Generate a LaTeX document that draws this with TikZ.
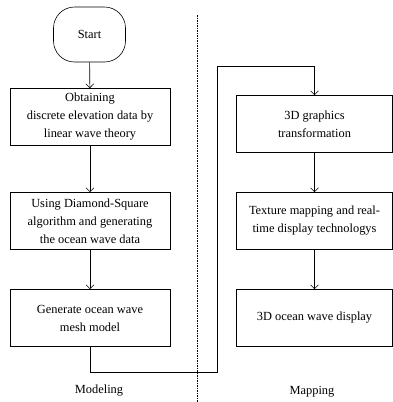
\documentclass[tikz,border=0pt]{standalone}
\usepackage{fontspec}
\setmainfont{Liberation Serif}
\usetikzlibrary{arrows.meta}
\begin{document}
\begin{tikzpicture}[x=1pt,y=-1pt,
  every node/.style={font=\fontsize{12.4}{18}\selectfont},
  stepbox/.style={draw, line width=0.6pt, minimum width=160pt, minimum height=57pt, align=center, inner sep=1pt},
  startbox/.style={draw, line width=0.6pt, rounded corners=21pt, minimum width=72pt, minimum height=55pt},
  flow/.style={line width=0.6pt, -{Straight Barb[length=4pt,width=8pt]}},
  link/.style={line width=0.6pt}]
\useasboundingbox (0,0) rectangle (393,402);
% modeling column
\node[startbox] (start) at (89.5,34.5) {Start};
\node[stepbox] (s1) at (90,117) {Obtaining\\discrete elevation data by\\linear wave theory};
\node[stepbox] (s2) at (90,221) {Using Diamond-Square\\algorithm and generating\\the ocean wave data};
\node[stepbox] (s3) at (90,318) {Generate ocean wave\\mesh model};
% mapping column
\node[stepbox, minimum width=156pt] (m1) at (314.5,124) {3D graphics\\transformation};
\node[stepbox, minimum width=156pt] (m2) at (314.5,221) {Texture mapping and real-\\time display technologys};
\node[stepbox, minimum width=156pt] (m3) at (314.5,318) {3D ocean wave display};
% separator
\draw[line width=0.6pt, dash pattern=on 1.5pt off 1pt] (197,15) -- (197,402);
% connectors
\coordinate (b1) at (90,372);
\coordinate (b2) at (217,372);
\coordinate (b3) at (217,66);
\coordinate (b4) at (314.5,66);
\draw[flow] (start) -- (s1);
\draw[flow] (s1) -- (s2);
\draw[flow] (s2) -- (s3);
\draw[flow] (s3.south) -- (b1) -- (b2) -- (b3) -- (b4) -- (m1.north);
\draw[flow] (m1) -- (m2);
\draw[flow] (m2) -- (m3);
% column labels
\node (lmod) at (99,391) {Modeling};
\node (lmap) at (312,392) {Mapping};
\end{tikzpicture}
\end{document}
